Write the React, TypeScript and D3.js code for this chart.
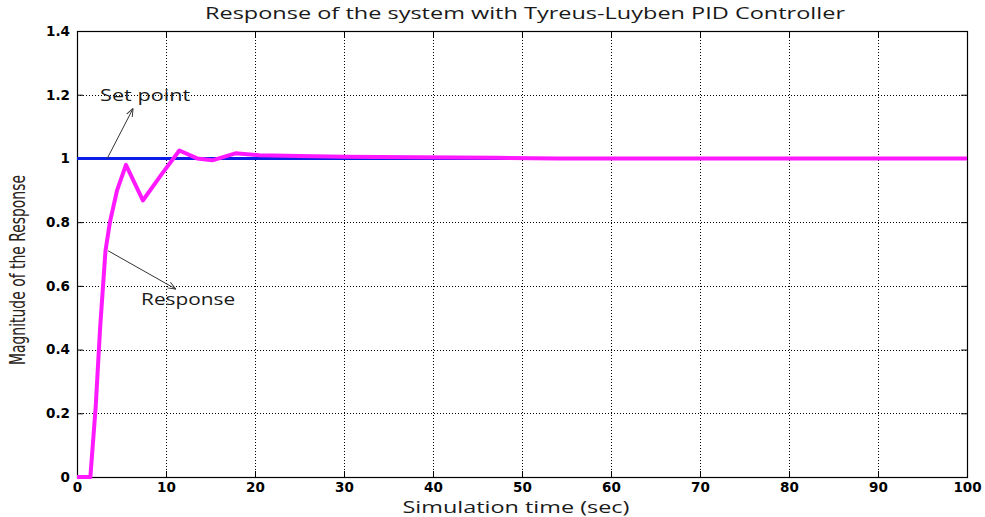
import React, { useEffect, useRef } from 'react';
import * as d3 from 'd3';

// simulation time (sec) and closed-loop response
const responseTime = [0, 1.5, 2.1, 2.6, 3.2, 3.7, 4.5, 5.5, 7.4, 9.5, 11.5, 13.5, 15.2, 17.8, 20.5, 25, 30, 38, 47, 54, 100];
const responseValue = [0, 0, 0.22, 0.47, 0.71, 0.8, 0.9, 0.98, 0.868, 0.95, 1.025, 1.0, 0.994, 1.016, 1.01, 1.008, 1.005, 1.004, 1.002, 1.0, 1.0];
const setpointTime = [0, 100];
const setpointValue = [1, 1];

const xTicks = [0, 10, 20, 30, 40, 50, 60, 70, 80, 90, 100];
const yTicks = [0, 0.2, 0.4, 0.6, 0.8, 1, 1.2, 1.4];

const W = 985;
const H = 517;

const App = () => {
  const ref = useRef<SVGSVGElement>(null);

  useEffect(() => {
    const svg = d3.select(ref.current);
    svg.selectAll('*').remove();

    const left = 77, right = 967, top = 31, bottom = 477;
    const x = d3.scaleLinear().domain([0, 100]).range([left, right]);
    const y = d3.scaleLinear().domain([0, 1.4]).range([bottom, top]);

    svg.append('rect').attr('width', W).attr('height', H).attr('fill', '#fff');

    // dotted grid
    const grid = svg.append('g').attr('stroke', '#000').attr('stroke-width', 1)
      .attr('stroke-dasharray', '1,2');
    grid.selectAll('.gx').data(xTicks.slice(1, -1)).join('line')
      .attr('x1', d => x(d) + 0.5).attr('x2', d => x(d) + 0.5)
      .attr('y1', top).attr('y2', bottom);
    grid.selectAll('.gy').data(yTicks.slice(1, -1)).join('line')
      .attr('y1', d => Math.round(y(d)) + 0.5).attr('y2', d => Math.round(y(d)) + 0.5)
      .attr('x1', left).attr('x2', right);

    // axes with inward ticks
    const xAxis = svg.append('g').attr('transform', `translate(0,${bottom})`)
      .call(d3.axisBottom(x).tickValues(xTicks).tickSizeInner(-6).tickSizeOuter(0).tickPadding(5));
    const yAxis = svg.append('g').attr('transform', `translate(${left},0)`)
      .call(d3.axisLeft(y).tickValues(yTicks).tickSizeInner(-6).tickSizeOuter(0).tickPadding(7)
        .tickFormat(d => d3.format('~g')(d as number)));
    svg.append('g').attr('transform', `translate(0,${top})`)
      .call(d3.axisTop(x).tickValues(xTicks).tickSizeInner(-6).tickSizeOuter(0).tickFormat(() => ''));
    svg.append('g').attr('transform', `translate(${right},0)`)
      .call(d3.axisRight(y).tickValues(yTicks).tickSizeInner(-6).tickSizeOuter(0).tickFormat(() => ''));

    svg.selectAll('.domain').remove();
    svg.selectAll('.tick line').attr('stroke', '#000');
    [xAxis, yAxis].forEach(a => a.selectAll('text')
      .attr('font-family', '"DejaVu Sans", Verdana, sans-serif')
      .attr('font-size', 13.5).attr('font-weight', 'bold').attr('fill', '#000'));

    svg.append('rect').attr('x', left + 0.5).attr('y', top + 0.5)
      .attr('width', right - left).attr('height', bottom - top)
      .attr('fill', 'none').attr('stroke', '#000').attr('stroke-width', 1.2);

    // series
    const setLine = d3.line<number>().x(d => x(setpointTime[d])).y(d => y(setpointValue[d]));
    svg.append('path').attr('d', setLine(setpointTime.map((_, i) => i)))
      .attr('fill', 'none').attr('stroke', '#0a1ee6').attr('stroke-width', 3);

    const respLine = d3.line<number>().x(d => x(responseTime[d])).y(d => y(responseValue[d]));
    svg.append('path').attr('d', respLine(responseTime.map((_, i) => i)))
      .attr('fill', 'none').attr('stroke', '#ff19ff').attr('stroke-width', 4)
      .attr('stroke-linejoin', 'round');

    // annotations
    const defs = svg.append('defs');
    defs.append('marker').attr('id', 'ah').attr('viewBox', '0 0 10 10')
      .attr('refX', 10).attr('refY', 5).attr('markerWidth', 8).attr('markerHeight', 8)
      .attr('orient', 'auto')
      .append('path').attr('d', 'M0,1 L10,5 L0,9').attr('fill', 'none').attr('stroke', '#333').attr('stroke-width', 1.2);

    const arrow = (x1: number, y1: number, x2: number, y2: number) =>
      svg.append('line').attr('x1', x(x1)).attr('y1', y(y1)).attr('x2', x(x2)).attr('y2', y(y2))
        .attr('stroke', '#333').attr('stroke-width', 1).attr('marker-end', 'url(#ah)');
    arrow(3.4, 1.0, 6.3, 1.157);
    arrow(3.5, 0.71, 11.1, 0.59);

    const annot = '"Open Sans", Lato, sans-serif';
    const label = (tx: number, ty: number, s: string, size: number, len: number, anchor = 'start') =>
      svg.append('text').attr('x', tx).attr('y', ty).text(s)
        .attr('text-anchor', anchor)
        .attr('font-family', annot).attr('font-size', size).attr('fill', '#1a1a1a')
        .attr('textLength', len).attr('lengthAdjust', 'spacingAndGlyphs');

    label(x(2.6), y(1.2) + 6, 'Set point', 16, 90);
    label(x(7.2), y(0.56) + 6, 'Response', 16, 94);
    label((left + right) / 2 + 3, 19, 'Response of the system with Tyreus-Luyben PID Controller', 17, 640, 'middle');
    label(516, 513, 'Simulation time (sec)', 16.5, 227, 'middle');

    svg.append('text').attr('transform', `translate(25,${270}) rotate(-90)`).attr('text-anchor', 'middle')
      .text('Magnitude of the Response')
      .attr('font-family', '"Liberation Sans Narrow", "DejaVu Sans Condensed", sans-serif')
      .attr('font-size', 21).attr('fill', '#2a2218')
      .attr('textLength', 190).attr('lengthAdjust', 'spacingAndGlyphs');
  }, []);

  return (
    <svg ref={ref} width={W} height={H} style={{ position: 'absolute', left: 0, top: 0 }} />
  );
};

export default App;
